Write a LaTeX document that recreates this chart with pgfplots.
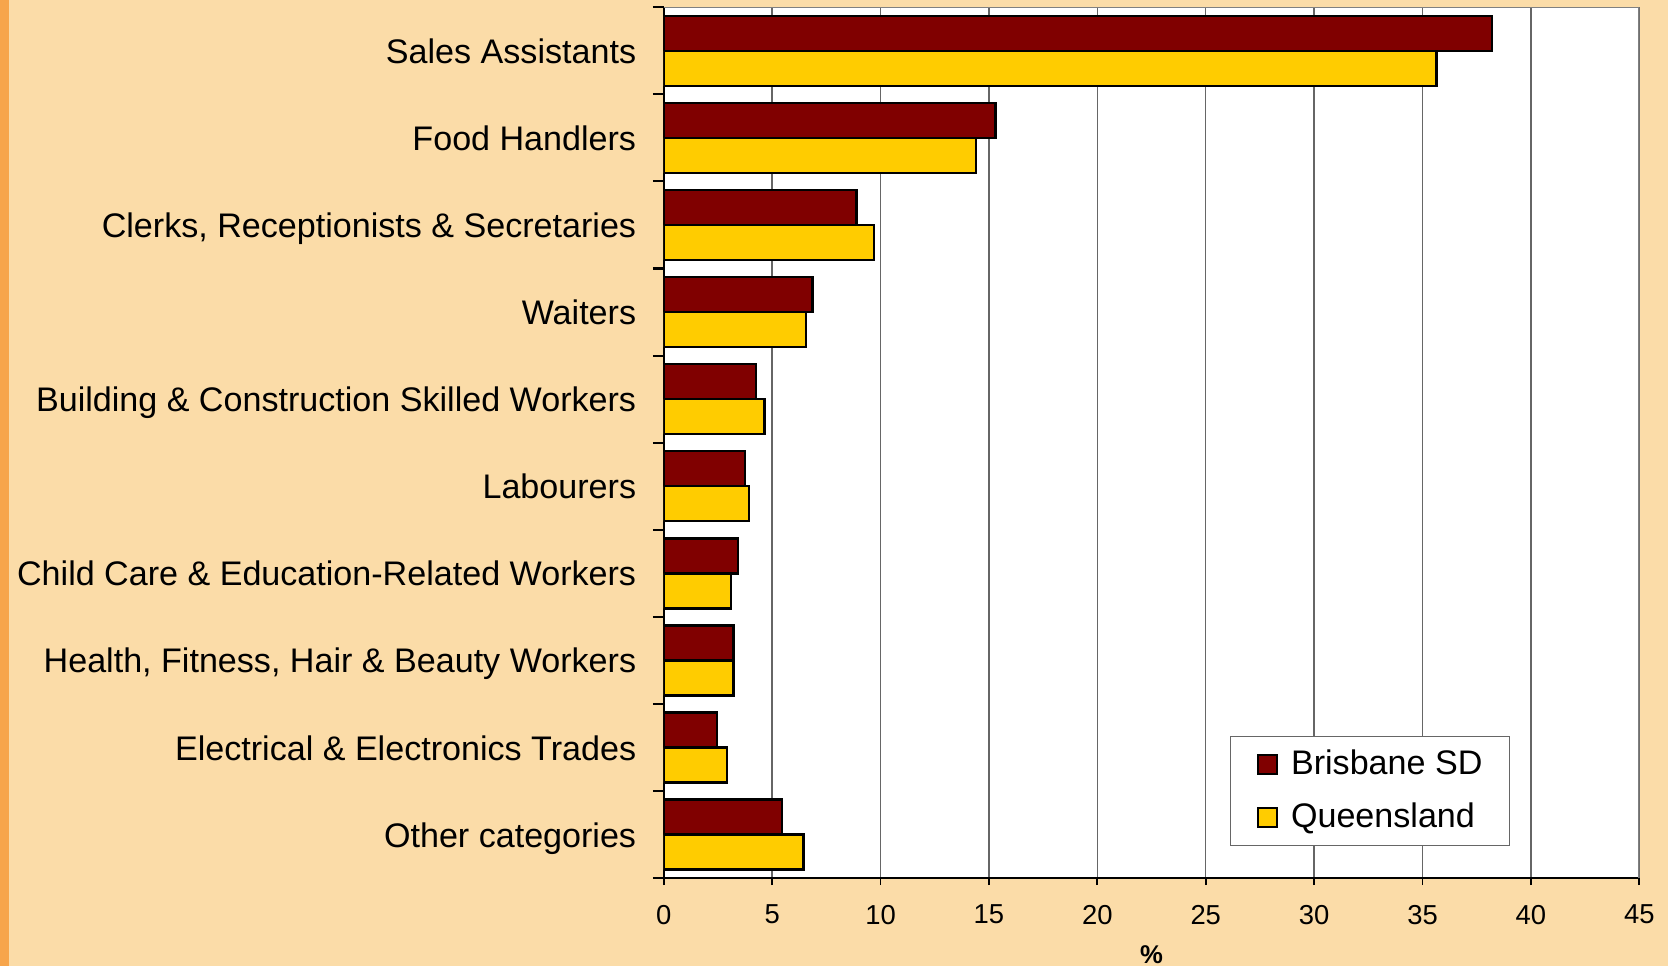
\documentclass[border=0pt]{standalone}
\usepackage{fontspec}
\setmainfont{Liberation Sans}
\usepackage{pgfplots}
\pgfplotsset{compat=1.18}
\definecolor{PageBg}{RGB}{251,220,168}
\definecolor{Stripe}{RGB}{247,165,75}
\definecolor{Brisbane}{RGB}{128,0,0}
\definecolor{Qld}{RGB}{255,204,0}
\begin{document}
\begin{tikzpicture}
  \fill[PageBg] (0,0) rectangle (166.8mm,96.6mm);
  \fill[Stripe] (0,0) rectangle (0.9mm,96.6mm);
  \path[use as bounding box] (0,0) rectangle (166.8mm,96.6mm);
  \begin{axis}[
      at={(66.38mm,8.78mm)}, anchor=south west,
      scale only axis, width=97.55mm, height=87.1mm,
      xbar, bar width=3.5mm,
      xmin=0, xmax=45, ymin=-0.5, ymax=9.5,
      axis background/.style={fill=white},
      axis x line*=bottom, axis y line*=left,
      axis line style={-, black, line width=0.6pt},
      tick align=outside,
      xtick={0,5,...,45},
      xmajorgrids, major grid style={black!60, line width=0.4pt},
      xtick style={black, line width=0.5pt, /pgfplots/major tick length=0.7mm},
      ytick={0,...,9},
      yticklabels={Other categories, Electrical \& Electronics Trades, {Health, Fitness, Hair \& Beauty Workers}, Child Care \& Education-Related Workers, Labourers, Building \& Construction Skilled Workers, Waiters, {Clerks, Receptionists \& Secretaries}, Food Handlers, Sales Assistants},
      ytick style={/pgfplots/major tick length=0pt},
      minor ytick={-0.5,0.5,...,9.5},
      minor tick length=1.1mm,
      minor tick style={black, line width=0.6pt},
      yticklabel style={font=\fontsize{9.7}{11}\selectfont, inner sep=0pt, anchor=base east, xshift=-1.2mm, yshift=-1.25mm},
      xticklabel style={font=\fontsize{7.8}{9}\selectfont, inner sep=0pt, anchor=north, yshift=-1.1mm},
      /pgf/number format/assume math mode=true,
      xlabel={\textbf{\%}},
      xlabel style={font=\fontsize{7.3}{8}\selectfont, at={(axis description cs:0.5,0)}, anchor=center, yshift=-7.6mm},
      legend cell align=left,
      legend image code/.code={\draw[#1, draw=black, line width=0.5pt] (0mm,-0.95mm) rectangle (1.9mm,0.95mm);},
      legend style={at={(0.580,0.1633)}, anchor=north west, draw=black!60, line width=0.4pt, fill=white,
        font=\fontsize{9.7}{11}\selectfont, inner xsep=2.7mm, inner ysep=1.25mm,
        nodes={inner sep=0pt, text height=2.5mm, text depth=0.6mm},
        row sep=2.2mm, /tikz/every odd column/.append style={column sep=1.3mm}},
  ]
  \addplot[fill=Brisbane, draw=black, line width=0.7pt, bar shift=1.75mm] coordinates {
    (5.45,0) (2.45,1) (3.22,2) (3.43,3) (3.74,4) (4.25,5) (6.86,6) (8.89,7) (15.3,8) (38.2,9)
  }; \addlegendentry{Brisbane SD}
  \addplot[fill=Qld, draw=black, line width=0.7pt, bar shift=-1.75mm] coordinates {
    (6.45,0) (2.91,1) (3.22,2) (3.11,3) (3.94,4) (4.65,5) (6.55,6) (9.69,7) (14.4,8) (35.65,9)
  }; \addlegendentry{Queensland}
  \draw[black!50, line width=0.5pt] (rel axis cs:0,1) -- (rel axis cs:1,1) -- (rel axis cs:1,0);
  \end{axis}
\end{tikzpicture}
\end{document}
